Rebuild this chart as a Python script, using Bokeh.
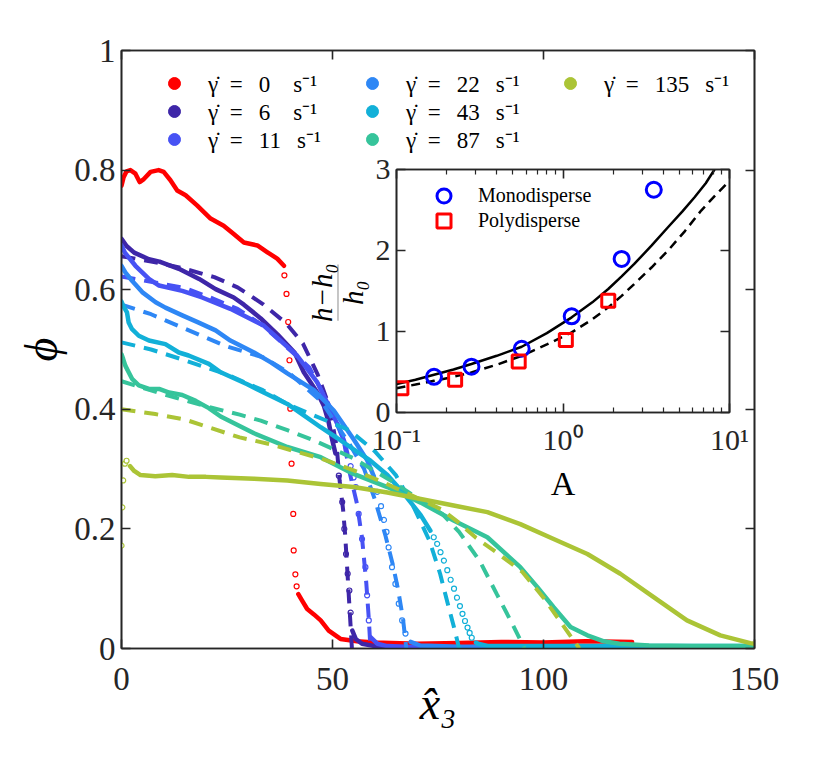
import math
from bokeh.plotting import figure
from bokeh.models import (LinearAxis, LogAxis, Legend, LegendItem, Label, PolyAnnotation,
                          CustomJSTickFormatter, FixedTicker, GridBox, Range1d)
from bokeh.embed import file_html
from bokeh.resources import INLINE

FONT = "Liberation Serif"
AX = "#262626"
NAN = float("nan")

# ---------------- main-plot data (phi vs x3) ----------------
x0_line = [0, 0.5, 1.2, 2.1, 3.3, 4.3, 5.3, 6.9, 8.8, 10.0, 11.6, 13.2, 15.2, 17.9, 21.1, 24.2, 26.6, 29.0, 32.2, 34.5, 36.9, 38.5]
y0_line = [0.774, 0.788, 0.798, 0.800, 0.794, 0.780, 0.785, 0.797, 0.800, 0.797, 0.783, 0.766, 0.758, 0.741, 0.719, 0.707, 0.693, 0.679, 0.674, 0.663, 0.652, 0.640]
x0_dots = [38.6, 39.1, 39.5, 39.8, 40.0, 40.3, 40.7, 40.8, 41.2, 41.5]
y0_dots = [0.624, 0.593, 0.546, 0.482, 0.401, 0.309, 0.225, 0.164, 0.124, 0.104]
x0_base = [41.9, 42.8, 44.0, 45.6, 47.2, 49.1, 51.9, 55.8, 60, 70, 80, 90, 100, 110, 121]
y0_base = [0.091, 0.080, 0.066, 0.057, 0.047, 0.030, 0.016, 0.012, 0.010, 0.008, 0.009, 0.011, 0.010, 0.012, 0.011]

x6_line = [0, 1.2, 3, 6.5, 9, 13.6, 18.4, 22.3, 26.6, 29, 33, 37, 41, 43.2, 46.4, 48, 49.1, 49.9, 50.7]
y6_line = [0.685, 0.673, 0.662, 0.651, 0.647, 0.635, 0.618, 0.601, 0.587, 0.575, 0.552, 0.525, 0.495, 0.462, 0.428, 0.405, 0.378, 0.350, 0.326]
x6_dots = [51.5, 52.3, 52.8, 53.2, 53.6, 54.0, 54.3]
y6_dots = [0.289, 0.245, 0.200, 0.158, 0.125, 0.097, 0.060]
x6_base = [54.7, 55.5, 57, 60, 65, 80, 100, 120]
y6_base = [0.030, 0.016, 0.008, 0.004, 0.002, 0.002, 0.002, 0.002]
x6_fit = [0, 8, 15, 22, 27.5, 33.5, 39, 43, 46.5, 49.3, 51, 51.7, 52.5, 53, 53.6, 54.1, 54.6]
y6_fit = [0.656, 0.646, 0.635, 0.621, 0.604, 0.576, 0.544, 0.510, 0.458, 0.404, 0.337, 0.280, 0.233, 0.190, 0.120, 0.060, 0.0]

x11_line = [0, 0.8, 3.3, 6.5, 8.9, 14.4, 19.1, 25.8, 33.7, 41.6, 46.4, 49.5, 51.1, 52.7, 53.5]
y11_line = [0.674, 0.662, 0.640, 0.618, 0.607, 0.598, 0.587, 0.568, 0.540, 0.490, 0.445, 0.400, 0.376, 0.348, 0.326]
x11_dots = [54.3, 55.0, 55.5, 56.2, 57.0, 57.8, 58.2, 58.6]
y11_dots = [0.305, 0.286, 0.270, 0.225, 0.183, 0.136, 0.089, 0.047]
x11_base = [59.0, 60.6, 63, 70, 100, 150]
y11_base = [0.019, 0.008, 0.004, 0.002, 0.002, 0.002]
x11_fit = [0, 15, 21, 27.5, 33.5, 39, 44.5, 50.3, 52.6, 54.2, 55.8, 57.0, 58.0, 58.6, 59.0]
y11_fit = [0.622, 0.603, 0.587, 0.568, 0.540, 0.505, 0.470, 0.392, 0.350, 0.290, 0.242, 0.185, 0.110, 0.050, 0.0]

x22_line = [0, 0.9, 2.5, 4.9, 8.1, 10.4, 14.4, 18.3, 22.3, 25.8, 31.4, 35.5, 39.3, 45.6, 50.3, 55, 58.2, 59.8]
y22_line = [0.640, 0.629, 0.615, 0.596, 0.579, 0.570, 0.557, 0.545, 0.532, 0.515, 0.495, 0.478, 0.460, 0.432, 0.398, 0.350, 0.315, 0.288]
x22_dots = [60.6, 61.5, 62.2, 62.8, 63.3, 64.1, 64.9, 65.7, 66.5, 67.3]
y22_dots = [0.262, 0.238, 0.215, 0.195, 0.169, 0.136, 0.108, 0.075, 0.047, 0.025]
x22_base = [68.5, 70.8, 80, 100, 150]
y22_base = [0.011, 0.005, 0.003, 0.003, 0.003]
x22_fit = [0, 7, 15, 25, 33.5, 39.5, 47.5, 54.2, 57.5, 60, 62.5, 64.3, 65.5, 66.7, 67.5]
y22_fit = [0.575, 0.559, 0.535, 0.505, 0.487, 0.462, 0.412, 0.340, 0.300, 0.250, 0.190, 0.140, 0.100, 0.050, 0.0]

x43_line = [0, 0.4, 1.3, 1.7, 2.5, 4.1, 6.5, 10.4, 13.6, 15.9, 20.7, 23.5, 29.8, 33.7, 39.3, 43.2, 47.2, 51.1, 55, 59, 63, 66.9, 70.9, 73.2]
y43_line = [0.580, 0.573, 0.562, 0.545, 0.534, 0.523, 0.515, 0.509, 0.495, 0.490, 0.476, 0.462, 0.442, 0.428, 0.409, 0.390, 0.370, 0.352, 0.333, 0.314, 0.290, 0.259, 0.223, 0.197]
x43_dots = [74.0, 74.8, 75.6, 76.4, 77.2, 78.0, 78.8, 79.5, 80.2, 80.8, 81.4, 82.0, 82.5, 83.0]
y43_dots = [0.186, 0.175, 0.161, 0.147, 0.131, 0.115, 0.100, 0.085, 0.071, 0.058, 0.046, 0.035, 0.026, 0.018]
x43_base = [84.0, 84.5, 87, 100, 150]
y43_base = [0.010, 0.008, 0.004, 0.004, 0.004]
x43_fit = [0, 7, 15, 25, 33.5, 39.5, 45.5, 54, 60, 65, 69, 73, 75.5, 77.5, 79, 80]
y43_fit = [0.512, 0.500, 0.482, 0.458, 0.432, 0.408, 0.390, 0.365, 0.330, 0.290, 0.240, 0.180, 0.125, 0.070, 0.030, 0.0]

x87_line = [0, 0.4, 0.9, 1.7, 2.5, 4.1, 6.5, 8.9, 11.3, 14.4, 17.6, 20.7, 23.5, 31.4, 39.3, 47.2, 55, 63, 70.9, 78.7, 86.7, 94.5, 98.5, 102.4, 106.4, 110.4, 114.3, 118, 125, 135, 150]
y87_line = [0.492, 0.484, 0.473, 0.462, 0.451, 0.440, 0.434, 0.434, 0.428, 0.424, 0.414, 0.402, 0.388, 0.360, 0.337, 0.320, 0.292, 0.270, 0.244, 0.214, 0.186, 0.136, 0.103, 0.069, 0.036, 0.022, 0.012, 0.008, 0.005, 0.004, 0.004]
x87_fit = [0, 10, 20, 28, 33, 39.3, 45.6, 55, 64, 72, 76, 80, 85, 89, 92.7, 95.5]
y87_fit = [0.447, 0.425, 0.405, 0.391, 0.381, 0.365, 0.348, 0.318, 0.280, 0.243, 0.225, 0.195, 0.145, 0.090, 0.040, 0.0]

x135_dots = [0, 0.2, 0.4, 0.8, 1.2]
y135_dots = [0.172, 0.236, 0.281, 0.309, 0.314]
x135_line = [2.0, 3, 4.5, 8, 12, 16, 20, 23.5, 31.4, 39.3, 47.2, 55, 63, 70.9, 78.7, 86.7, 94.5, 102.4, 110.4, 118.2, 126.1, 134, 141.9, 149, 150]
y135_line = [0.305, 0.297, 0.290, 0.288, 0.290, 0.287, 0.287, 0.286, 0.284, 0.281, 0.275, 0.270, 0.261, 0.250, 0.239, 0.228, 0.208, 0.183, 0.158, 0.125, 0.086, 0.047, 0.022, 0.009, 0.008]
x135_fit = [0, 8, 15, 28, 35, 41, 47.5, 55, 62, 70, 76, 80, 84, 89, 95, 100, 104, 107, 108.5]
y135_fit = [0.400, 0.392, 0.383, 0.353, 0.342, 0.330, 0.317, 0.298, 0.278, 0.252, 0.232, 0.210, 0.185, 0.160, 0.128, 0.085, 0.045, 0.015, 0.0]

shear_rates = ["0", "6", "11", "22", "43", "87", "135"]
colors = ["#FF0000", "#3E26A8", "#4752F4", "#2E87F5", "#12B0D8", "#36C49B", "#ABC436"]

x_ticks = [0, 50, 100, 150]
y_ticks = [0, 0.2, 0.4, 0.6, 0.8, 1.0]

# ---------------- inset data ----------------
mono_A = [0.168, 0.282, 0.565, 1.128, 2.25, 3.51]
mono_h = [0.441, 0.565, 0.787, 1.187, 1.896, 2.75]
poly_A = [0.107, 0.225, 0.542, 1.04, 1.87]
poly_h = [0.300, 0.404, 0.630, 0.895, 1.380]
solid_A = [0.1, 0.13, 0.168, 0.22, 0.282, 0.4, 0.565, 0.8, 1.128, 1.5, 1.87, 2.25, 2.68, 3.4, 4.27, 5.2, 6.17, 7.2, 8.13]
solid_h = [0.35, 0.405, 0.466, 0.53, 0.598, 0.70, 0.812, 0.98, 1.175, 1.36, 1.525, 1.68, 1.834, 2.06, 2.287, 2.48, 2.658, 2.83, 3.0]
dash_A = [0.1, 0.13, 0.168, 0.22, 0.282, 0.4, 0.565, 0.8, 1.128, 1.5, 1.87, 2.25, 2.68, 3.4, 4.27, 5.4, 6.76, 8.2, 10.0]
dash_h = [0.30, 0.345, 0.392, 0.44, 0.495, 0.59, 0.700, 0.84, 0.989, 1.15, 1.298, 1.44, 1.587, 1.79, 1.999, 2.24, 2.493, 2.68, 2.86]
inset_x_ticks = [0.1, 1, 10]
inset_y_ticks = [0, 1, 2, 3]


def style_axis(ax, size="33px", labels=True):
    ax.major_tick_in = 9
    ax.major_tick_out = 0
    ax.minor_tick_in = 0
    ax.minor_tick_out = 0
    ax.axis_line_color = AX
    ax.axis_line_width = 1.6
    ax.major_tick_line_color = AX
    ax.major_tick_line_width = 1.6
    ax.major_label_text_font = FONT
    ax.major_label_text_font_size = size
    ax.major_label_text_color = AX
    ax.major_label_standoff = 6
    if not labels:
        ax.formatter = CustomJSTickFormatter(code="return ''")


# ================= main figure =================
p = figure(output_backend="svg", toolbar_location=None,
           width=121 + 633 + 40, height=50 + 598 + 100,
           min_border_left=121, min_border_top=50, min_border_right=40, min_border_bottom=100,
           x_range=Range1d(0, 150), y_range=Range1d(0, 1))
p.grid.visible = False
p.outline_line_color = AX
p.outline_line_width = 1.6
p.background_fill_color = "white"
p.border_fill_color = "white"

style_axis(p.xaxis[0])
style_axis(p.yaxis[0])
p.xaxis[0].ticker = FixedTicker(ticks=x_ticks)
p.yaxis[0].ticker = FixedTicker(ticks=y_ticks)
p.yaxis[0].formatter = CustomJSTickFormatter(code="return tick.toFixed(1).replace(/\\.0$/, '')")
p.xaxis[0].major_label_standoff = 19
p.xaxis[0].axis_label = "x\u0302\u2083"
p.xaxis[0].axis_label_text_font = FONT
p.xaxis[0].axis_label_text_font_style = "italic"
p.xaxis[0].axis_label_text_font_size = "46px"
p.xaxis[0].axis_label_text_color = "black"
p.xaxis[0].axis_label_standoff = -15
p.yaxis[0].axis_label = "\u03d5"
p.yaxis[0].axis_label_text_font = FONT
p.yaxis[0].axis_label_text_font_style = "italic"
p.yaxis[0].axis_label_text_font_size = "46px"
p.yaxis[0].axis_label_text_color = "black"
p.yaxis[0].axis_label_standoff = 4

top_ax = LinearAxis(ticker=FixedTicker(ticks=x_ticks))
style_axis(top_ax, labels=False)
p.add_layout(top_ax, "above")
right_ax = LinearAxis(ticker=FixedTicker(ticks=y_ticks))
style_axis(right_ax, labels=False)
p.add_layout(right_ax, "right")

DATA_W = 4.5
FIT_W = 4
FIT_DASH = "14 9"

series = [
    (x0_line, y0_line, x0_dots, y0_dots, x0_base, y0_base, None, None),
    (x6_line, y6_line, x6_dots, y6_dots, x6_base, y6_base, x6_fit, y6_fit),
    (x11_line, y11_line, x11_dots, y11_dots, x11_base, y11_base, x11_fit, y11_fit),
    (x22_line, y22_line, x22_dots, y22_dots, x22_base, y22_base, x22_fit, y22_fit),
    (x43_line, y43_line, x43_dots, y43_dots, x43_base, y43_base, x43_fit, y43_fit),
    (x87_line, y87_line, None, None, None, None, x87_fit, y87_fit),
    (x135_line, y135_line, x135_dots, y135_dots, None, None, x135_fit, y135_fit),
]

legend_renderers = []
for (xl, yl, xd, yd, xb, yb, xf, yf), c in zip(series, colors):
    p.line(xl, yl, line_color=c, line_width=DATA_W, line_join="round", line_cap="round")
    if xd is not None:
        p.scatter(xd, yd, marker="circle", size=5, fill_color="white", line_color=c, line_width=1.2)
    if xb is not None:
        p.line(xb, yb, line_color=c, line_width=DATA_W, line_join="round", line_cap="round")
    if xf is not None:
        p.line(xf, yf, line_color=c, line_width=FIT_W, line_dash=FIT_DASH)
    legend_renderers.append(p.scatter([NAN], [NAN], marker="circle", size=12,
                                      fill_color=c, line_color=c))

GAPS = {1: "\u2003", 2: "\u2002\u2009", 3: "\u2002\u2009"}
labels = ["\u03b3\u0307\u2002=\u2002\u2009" + s + GAPS[len(s)] + "s\u207b\u00b9" for s in shear_rates]

# legend slots: (column left, row centre measured from frame top)
slot_left = [38, 38, 38, 236, 236, 236, 434]
slot_row = [34, 62, 90, 34, 62, 90, 34]
for i in range(len(shear_rates)):
    leg = Legend(items=[LegendItem(label=labels[i], renderers=[legend_renderers[i]])],
                 location=(slot_left[i], 598 - slot_row[i] - 15),
                 padding=0, margin=0, spacing=0, glyph_width=30, glyph_height=30,
                 label_height=22, label_standoff=19,
                 label_text_font=FONT, label_text_font_size="23px", label_text_color="black",
                 border_line_color=None, background_fill_alpha=0)
    p.add_layout(leg)

# inset y-axis label: (h - h0) / h0, rotated, drawn in the main figure behind the inset
FRAC_FS = "29px"
p.add_layout(Label(x=47.6, y=0.595, text="h\u2212h\u2080", angle=math.pi / 2,
                   text_align="center", text_baseline="middle", text_font=FONT,
                   text_font_style="italic", text_font_size=FRAC_FS, text_color="black"))
p.add_layout(Label(x=54.9, y=0.595, text="h\u2080", angle=math.pi / 2,
                   text_align="center", text_baseline="middle", text_font=FONT,
                   text_font_style="italic", text_font_size=FRAC_FS, text_color="black"))
p.add_layout(PolyAnnotation(xs=[51.3, 51.3], ys=[0.548, 0.642], line_color="black",
                            line_width=1.5, fill_alpha=0))

# ================= inset figure =================
q = figure(output_backend="svg", toolbar_location=None, x_axis_type="log",
           width=100 + 333 + 30, height=20 + 243 + 95,
           min_border_left=100, min_border_right=30, min_border_top=20, min_border_bottom=95,
           x_range=Range1d(0.1, 10), y_range=Range1d(0, 3))
q.grid.visible = False
q.border_fill_color = None
q.background_fill_color = "white"
q.outline_line_color = AX
q.outline_line_width = 1.6

minor = [m * d for d in (0.1, 1) for m in range(2, 10)]
style_axis(q.xaxis[0], size="30px")
q.xaxis[0].ticker = FixedTicker(ticks=inset_x_ticks, minor_ticks=minor)
q.xaxis[0].minor_tick_in = 5
q.xaxis[0].minor_tick_line_color = AX
q.xaxis[0].minor_tick_line_width = 1.2
q.xaxis[0].formatter = CustomJSTickFormatter(
    code="const e = Math.round(Math.log10(tick)); return e < 0 ? '10\u207b\u00b9' : (e == 0 ? '10\u2070' : '10\u00b9');")
q.xaxis[0].major_label_standoff = 10
q.xaxis[0].axis_label = "A"
q.xaxis[0].axis_label_text_font = FONT
q.xaxis[0].axis_label_text_font_style = "normal"
q.xaxis[0].axis_label_text_font_size = "34px"
q.xaxis[0].axis_label_text_color = "black"
q.xaxis[0].axis_label_standoff = 6

style_axis(q.yaxis[0], size="30px")
q.yaxis[0].ticker = FixedTicker(ticks=inset_y_ticks)

q_top = LogAxis(ticker=FixedTicker(ticks=inset_x_ticks, minor_ticks=minor))
style_axis(q_top, labels=False)
q_top.minor_tick_in = 5
q_top.minor_tick_line_color = AX
q_top.minor_tick_line_width = 1.2
q.add_layout(q_top, "above")
q_right = LinearAxis(ticker=FixedTicker(ticks=inset_y_ticks))
style_axis(q_right, labels=False)
q.add_layout(q_right, "right")

q.line(solid_A, solid_h, line_color="black", line_width=2.5)
q.line(dash_A, dash_h, line_color="black", line_width=2.5, line_dash="9 6")
r_mono = q.scatter(mono_A, mono_h, marker="circle", size=15, fill_color=None,
                   line_color="#0000FF", line_width=3)
r_poly = q.scatter(poly_A, poly_h, marker="square", size=13, fill_color=None,
                   line_color="#FF0000", line_width=3)
for lbl, rend, row in (("Monodisperse", r_mono, 26), ("Polydisperse", r_poly, 51)):
    q.add_layout(Legend(items=[LegendItem(label=lbl, renderers=[rend])],
                        location=(30, 243 - row - 17.5), padding=0, margin=0, spacing=0,
                        glyph_width=35, glyph_height=35, label_height=22, label_standoff=17,
                        label_text_font=FONT, label_text_font_size="20px", label_text_color="black",
                        border_line_color=None, background_fill_alpha=0))

layout = GridBox(children=[(p, 0, 0, 3, 3), (q, 1, 1)],
                 rows=["149px", "358px", "auto"], cols=["296px", "463px", "auto"])

open("out.html", "w").write(file_html(layout, INLINE))
